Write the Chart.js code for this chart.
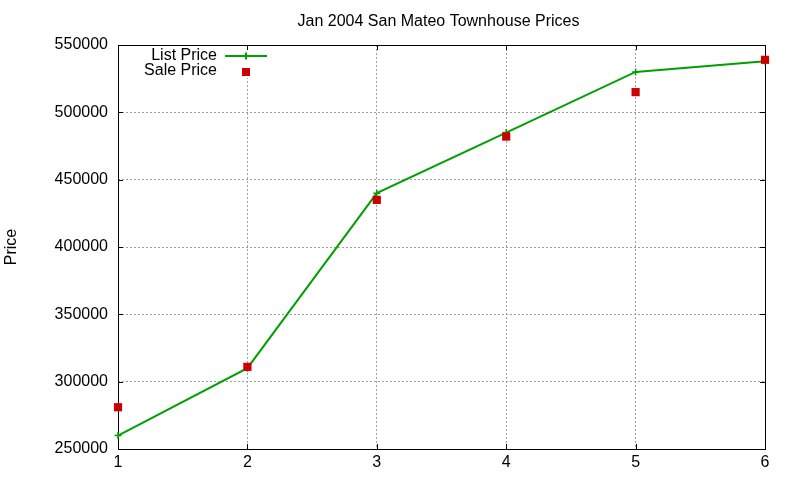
<!DOCTYPE html>
<html>
<head>
<meta charset="utf-8">
<script src="https://cdn.jsdelivr.net/npm/chart.js@4/dist/chart.umd.min.js"></script>
<style>
  html, body { margin: 0; padding: 0; background: #fff; }
  #wrap { width: 800px; height: 480px; }
</style>
</head>
<body>
<div id="wrap"><canvas id="chart" width="800" height="480"></canvas></div>
<script>
'use strict';

/* ---- data ---- */
const months     = [1, 2, 3, 4, 5, 6];
const listPrice  = [260000, 310000, 440000, 485000, 530000, 538000];
const salePrice  = [281000, 311000, 435000, 482000, 515000, 539000];
const yTicks     = [250000, 300000, 350000, 400000, 450000, 500000, 550000];
const titleText  = 'Jan 2004 San Mateo Townhouse Prices';
const yAxisTitle = 'Price';

const FONT   = "'Liberation Sans', Arial, sans-serif";
const GREEN  = '#00a000';
const RED    = '#cc0000';
const GRID   = '#a0a0a0';
const TICK_LEN = 5;

/* gnuplot-like frame, inward ticks, title and key */
const gnuplotDecor = {
  id: 'gnuplotDecor',
  // frame + ticks + key go under the data, like gnuplot
  beforeDatasetsDraw(chart) {
    const { ctx, chartArea: a, scales } = chart;
    ctx.save();

    // key (opaque box so the grid stops behind it)
    ctx.fillStyle = '#fff';
    ctx.fillRect(130, 48, 142, 30);

    // frame
    ctx.strokeStyle = '#000';
    ctx.lineWidth = 1;
    ctx.setLineDash([]);
    ctx.strokeRect(a.left + 0.5, a.top + 0.5, a.right - a.left, a.bottom - a.top);

    // inward ticks on all four sides
    ctx.beginPath();
    yTicks.forEach(v => {
      const y = Math.round(scales.y.getPixelForValue(v)) + 0.5;
      ctx.moveTo(a.left, y);  ctx.lineTo(a.left + TICK_LEN, y);
      ctx.moveTo(a.right, y); ctx.lineTo(a.right - TICK_LEN, y);
    });
    months.forEach(v => {
      const x = Math.round(scales.x.getPixelForValue(v)) + 0.5;
      ctx.moveTo(x, a.bottom); ctx.lineTo(x, a.bottom - TICK_LEN);
      ctx.moveTo(x, a.top);    ctx.lineTo(x, a.top + TICK_LEN);
    });
    ctx.stroke();

    // title
    ctx.fillStyle = '#000';
    ctx.font = '16px ' + FONT;
    ctx.textAlign = 'center';
    ctx.textBaseline = 'middle';
    ctx.fillText(titleText, (a.left + a.right) / 2 - 3, 22);

    // key entries
    const ds = chart.data.datasets;
    ctx.textAlign = 'right';
    ctx.fillText(ds[0].label, 217, 56);
    ctx.fillText(ds[1].label, 217, 71);

    ctx.strokeStyle = GREEN;
    ctx.lineWidth = 2;
    ctx.beginPath();
    ctx.moveTo(225, 56); ctx.lineTo(267, 56);
    ctx.moveTo(246, 52.5); ctx.lineTo(246, 59.5);
    ctx.stroke();

    ctx.fillStyle = RED;
    ctx.fillRect(242, 68, 8, 8);

    ctx.restore();
  }
};

new Chart(document.getElementById('chart'), {
  type: 'line',
  data: {
    datasets: [
      {
        label: 'List Price',
        data: months.map((m, i) => ({ x: m, y: listPrice[i] })),
        order: 1,               // drawn first, squares sit on top
        borderColor: GREEN,
        backgroundColor: GREEN,
        borderWidth: 2,
        pointStyle: 'cross',
        pointRadius: 3.5,
        pointBorderWidth: 1.5,
        tension: 0,
        clip: false,
      },
      {
        label: 'Sale Price',
        data: months.map((m, i) => ({ x: m, y: salePrice[i] })),
        order: 0,
        showLine: false,
        borderColor: RED,
        backgroundColor: RED,
        pointStyle: 'rect',
        pointRadius: 5.8,
        pointBorderWidth: 0,
        clip: false,
      },
    ],
  },
  options: {
    responsive: false,
    animation: false,
    devicePixelRatio: 1,
    layout: { padding: { top: 45, right: 35, left: 0, bottom: 0 } },
    plugins: {
      legend: { display: false },
      title: { display: false },
      tooltip: { enabled: false },
    },
    scales: {
      x: {
        type: 'linear',
        min: 1,
        max: 6,
        afterFit(scale) { scale.height = 31; },
        afterBuildTicks(scale) { scale.ticks = months.map(v => ({ value: v })); },
        ticks: {
          color: '#000',
          padding: 4,
          font: { size: 16, family: FONT },
        },
        grid: { color: GRID, lineWidth: 1, drawTicks: false },
        border: { display: false, dash: [2, 2] },
      },
      y: {
        type: 'linear',
        min: 250000,
        max: 550000,
        afterFit(scale) { scale.width = 118; },
        afterBuildTicks(scale) { scale.ticks = yTicks.map(v => ({ value: v })); },
        ticks: {
          color: '#000',
          padding: 10,
          font: { size: 16, family: FONT },
          callback: v => String(v),
        },
        grid: { color: GRID, lineWidth: 1, drawTicks: false },
        border: { display: false, dash: [2, 2] },
        title: {
          display: true,
          text: yAxisTitle,
          color: '#000',
          padding: { top: 2, bottom: 0 },
          font: { size: 16, family: FONT },
        },
      },
    },
  },
  plugins: [gnuplotDecor],
});
</script>
</body>
</html>
